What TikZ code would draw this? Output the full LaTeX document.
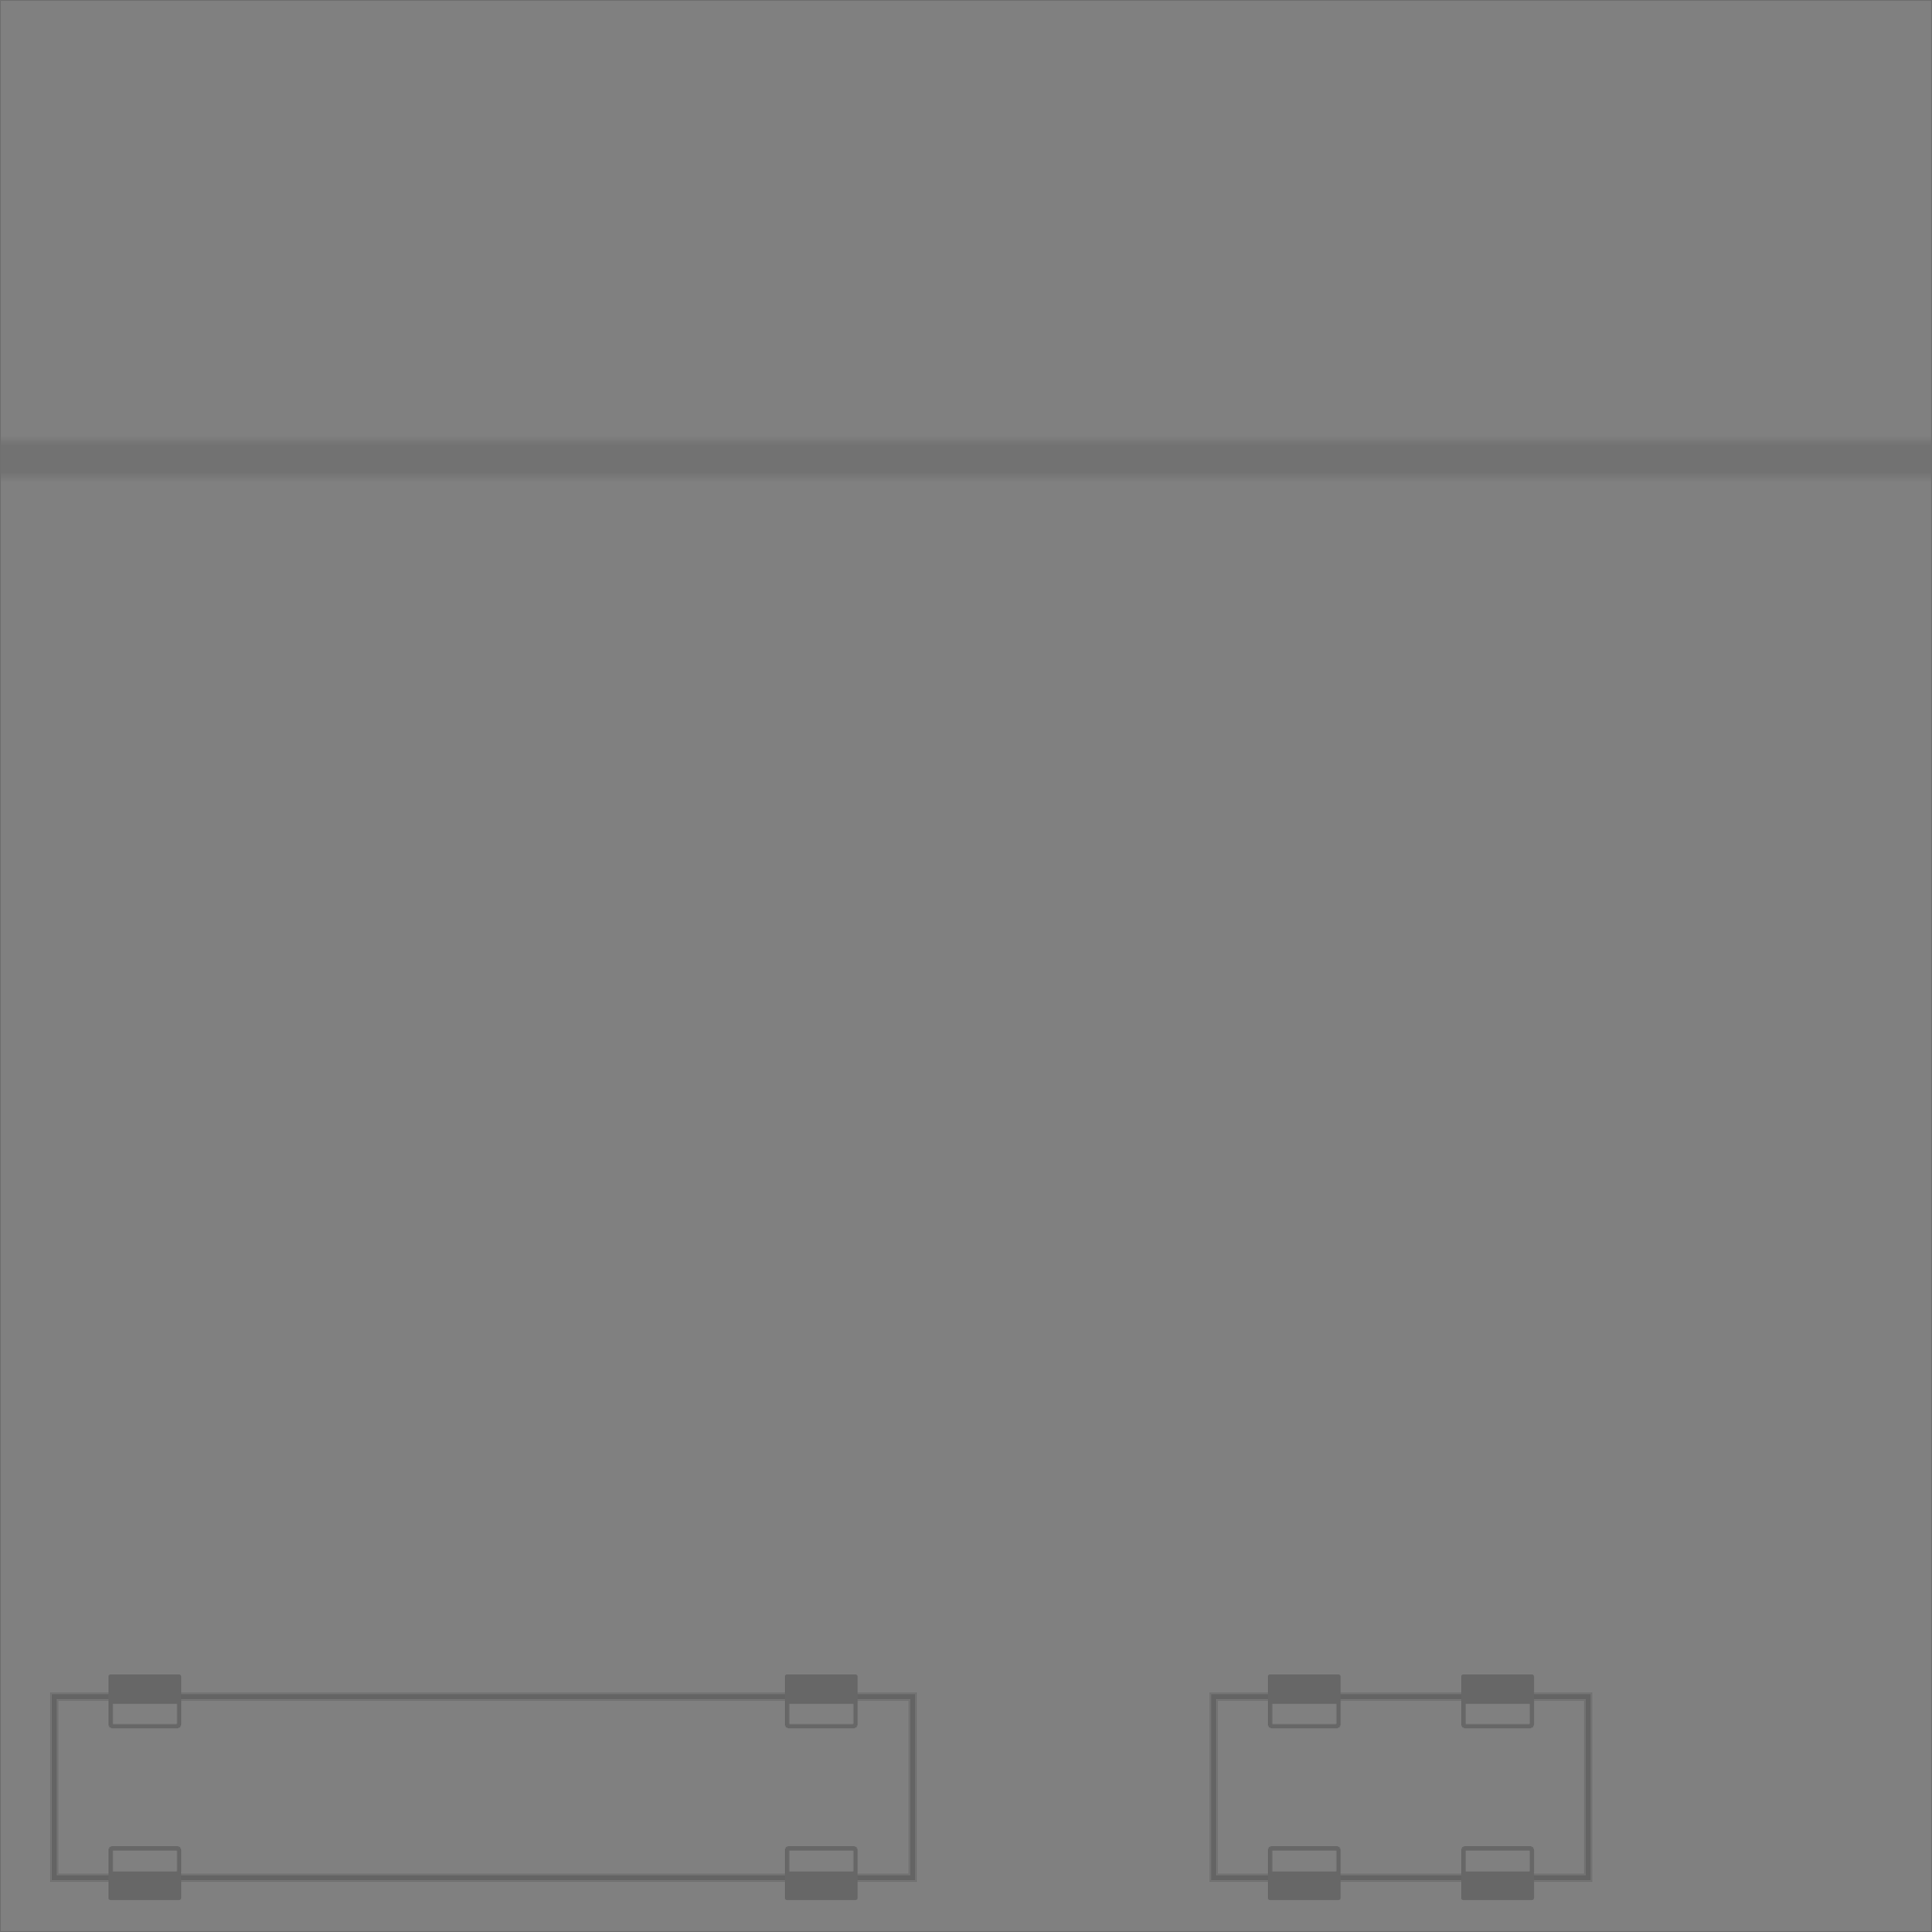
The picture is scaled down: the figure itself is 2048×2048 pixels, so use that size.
\documentclass[tikz,border=0pt]{standalone}
\usepackage{tikz}

\definecolor{groundgrey}{HTML}{808080}
\definecolor{bandgrey}{HTML}{727272}
\definecolor{bodygrey}{HTML}{646464}
\definecolor{wheelgrey}{HTML}{676767}
\definecolor{edgegrey}{HTML}{707070}

\tikzset{
    carbody/.style={draw=bodygrey, line width=0.05cm, line join=miter},
    carhalo/.style={draw=bodygrey!45!groundgrey, line width=0.09cm, line join=miter},
    wheelbox/.style={draw=wheelgrey, line width=0.045cm, rounded corners=0.02cm},
    wheelfill/.style={fill=wheelgrey, rounded corners=0.02cm}
}

\begin{document}
\begin{tikzpicture}[x=0.01cm, y=-0.01cm]
    \useasboundingbox (0, 0) rectangle (2048, 2048);

    % Ground
    \fill[groundgrey] (0, 0) rectangle (2048, 2048);

    % Soft horizontal band
    \shade[top color=groundgrey, bottom color=bandgrey] (0, 461) rectangle (2048, 472);
    \fill[bandgrey] (0, 472) rectangle (2048, 500);
    \shade[top color=bandgrey, bottom color=groundgrey] (0, 500) rectangle (2048, 511);

    % Thin edge
    \draw[edgegrey, line width=0.01cm] (0.5, 0.5) rectangle (2047.5, 2047.5);

    % Long car, then short car: left, right
    \foreach \xl/\xr in {57.5/967, 1286.5/1683} {
        \draw[carhalo] (\xl, 1798) rectangle (\xr, 1990.5);
        \draw[carbody] (\xl, 1798) rectangle (\xr, 1990.5);
    }

    % Wheels, left edge of each pair
    \foreach \x in {115, 832, 1344, 1549} {
        % upper wheel
        \fill[wheelfill] (\x, 1775) rectangle (\x+77, 1806);
        \draw[wheelbox] (\x+2.25, 1802) rectangle (\x+74.75, 1829.75);
        % lower wheel
        \draw[wheelbox] (\x+2.25, 1959.25) rectangle (\x+74.75, 1986);
        \fill[wheelfill] (\x, 1984) rectangle (\x+77, 2014);
    }
\end{tikzpicture}
\end{document}
